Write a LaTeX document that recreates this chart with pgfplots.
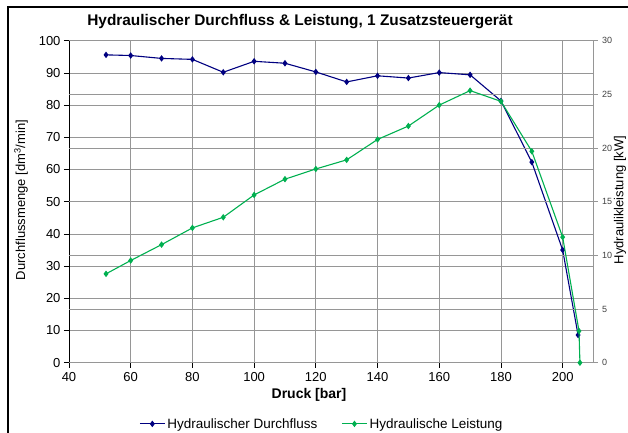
\documentclass[border=0pt]{standalone}
\usepackage{pgfplots}
\pgfplotsset{compat=1.18}
\usepackage{fontspec}
\setmainfont{Liberation Sans}
\definecolor{dblue}{RGB}{0,0,128}
\definecolor{dgreen}{RGB}{0,176,80}
\definecolor{gridc}{RGB}{150,150,150}

\pgfplotstableread{
x y
52 95.6
60 95.4
70 94.5
80 94.2
90 90.2
100 93.6
110 93.0
120 90.3
130 87.2
140 89.1
150 88.4
160 90.1
170 89.4
180 81.3
190 62.3
200 35.0
205 8.6
}\flow

\pgfplotstableread{
x y
52 8.28
60 9.52
70 11.0
80 12.56
90 13.55
100 15.63
110 17.1
120 18.05
130 18.9
140 20.8
150 22.05
160 24.0
170 25.35
180 24.35
190 19.7
200 11.7
205.3 2.95
205.6 0.0
}\power

\begin{document}
\begin{tikzpicture}[x=1pt,y=1pt]
\useasboundingbox (0,0) rectangle (628,432);
\draw[black, line width=1.6pt] (8,-2) -- (8,425) -- (630,425);
\pgfplotsset{
  every axis/.append style={
    at={(69pt,69.3pt)}, anchor=south west,
    scale only axis, width=524.5pt, height=322pt,
    xmin=40, xmax=210,
    /pgf/number format/assume math mode=true,
  },
  mylegend/.style={legend image code/.code={\draw[mark repeat=2,mark phase=2] plot coordinates {(0pt,0pt)(12.5pt,0pt)(25pt,0pt)};}},
}
\begin{axis}[
  ymin=0, ymax=100,
  axis x line*=bottom, axis y line*=left,
  axis line style={black, line width=0.8pt},
  xtick={40,60,...,200}, ytick={0,10,...,100},
  grid=major, major grid style={gridc, line width=0.8pt},
  tick align=outside, major tick length=5pt,
  tick style={black, line width=0.8pt},
  ticklabel style={font=\fontsize{13}{15}\selectfont},
  xticklabel style={yshift=-1pt},
]
\addplot[dblue, line width=1.1pt, mark=diamond*, mark size=2.4pt, mark options={solid}] table[x=x,y=y]{\flow};
\end{axis}
\begin{axis}[
  ymin=0, ymax=30,
  axis y line*=right, axis x line=none,
  axis line style={gridc, line width=0.8pt},
  ytick={0,5,...,30},
  ymajorgrids, major grid style={gridc, line width=0.8pt},
  tick align=outside, major tick length=4pt,
  tick style={gridc, line width=0.8pt},
  yticklabel style={font=\fontsize{9}{11}\selectfont, text=black!75, xshift=1pt},
  legend columns=2,
  legend style={at={(0.482,-0.19)}, anchor=center, draw=none, fill=none,
    font=\fontsize{13.5}{15}\selectfont,
    /tikz/every even column/.append style={column sep=22pt}},
  mylegend,
]
\addlegendimage{dblue, line width=1.1pt, mark=diamond*, mark size=2.4pt}
\addlegendentry{Hydraulischer Durchfluss}
\addplot[dgreen, line width=1.1pt, mark=diamond*, mark size=2.4pt, mark options={solid}] table[x=x,y=y]{\power};
\addlegendentry{Hydraulische Leistung}
\end{axis}
\node[font=\bfseries\fontsize{15.4}{17}\selectfont] at (300,410) {Hydraulischer Durchfluss \& Leistung, 1 Zusatzsteuergerät};
\node[font=\bfseries\fontsize{14}{16}\selectfont] at (309,37) {Druck [bar]};
\node[rotate=90, font=\fontsize{13}{15}\selectfont] at (21,232) {Durchflussmenge [dm\textsuperscript{3}/min]};
\node[rotate=90, font=\fontsize{13}{15}\selectfont] at (620,232) {Hydraulikleistung [kW]};
\end{tikzpicture}
\end{document}
